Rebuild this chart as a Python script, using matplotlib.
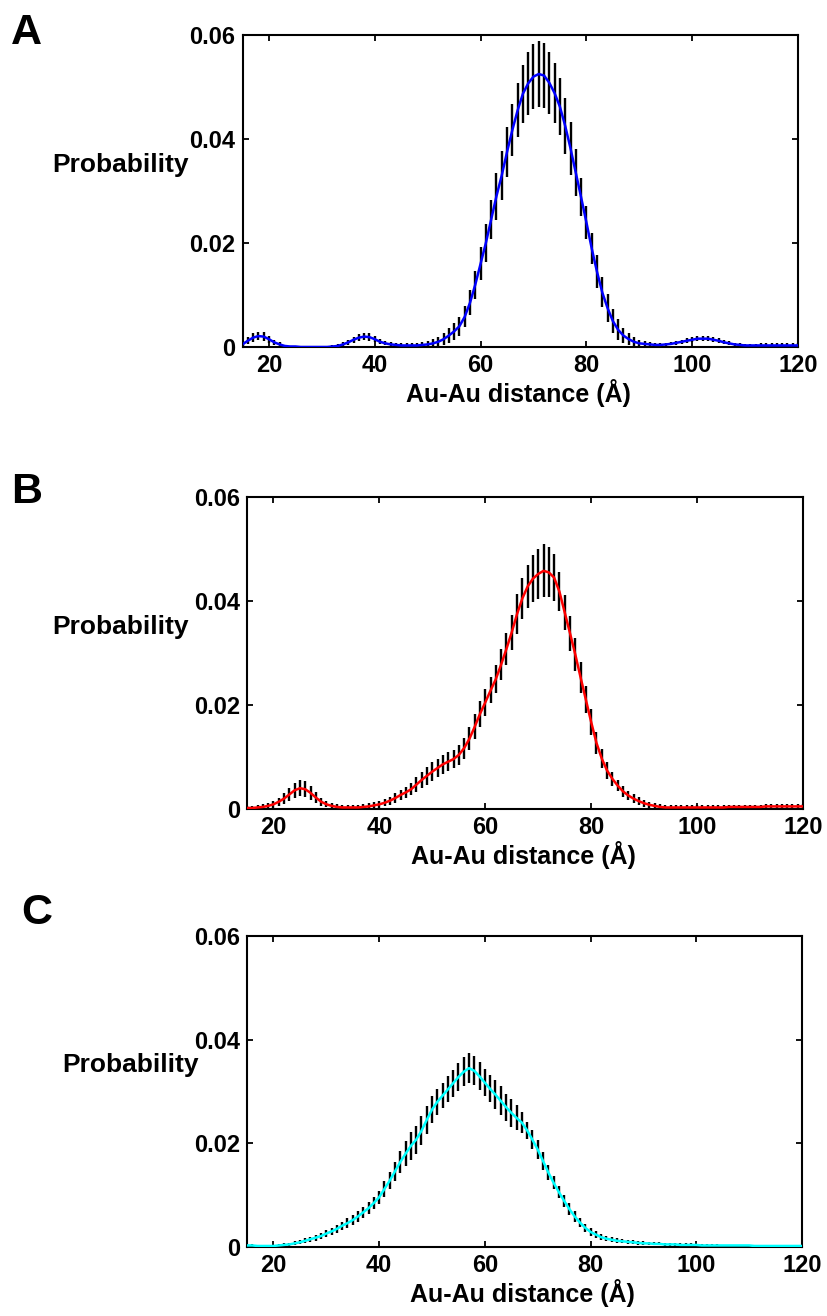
import numpy as np
import matplotlib
matplotlib.use("Agg")
import matplotlib.pyplot as plt

plt.rcParams['font.family'] = ['Liberation Sans', 'DejaVu Sans']
plt.rcParams['font.weight'] = 'bold'

# Au-Au distance grid (Angstrom), one point per 1 A
distance = list(range(15, 121))

# Panel A (blue)
prob_a = [0.0005, 0.0012, 0.0018, 0.0021, 0.0020, 0.0015, 0.0009, 0.0005, 0.0002, 0.0001,
          0.0001, 0.0000, 0.0000, 0.0000, 0.0000, 0.0000, 0.0000, 0.0001, 0.0002, 0.0005,
          0.0009, 0.0014, 0.0018, 0.0020, 0.0019, 0.0015, 0.0010, 0.0007, 0.0005, 0.0004,
          0.0003, 0.0003, 0.0003, 0.0003, 0.0004, 0.0005, 0.0007, 0.0010, 0.0015, 0.0022,
          0.0030, 0.0040, 0.0058, 0.0085, 0.0120, 0.0160, 0.0200, 0.0245, 0.0290, 0.0330,
          0.0375, 0.0417, 0.0455, 0.0487, 0.0507, 0.0520, 0.0525, 0.0522, 0.0508, 0.0488,
          0.0462, 0.0425, 0.0382, 0.0335, 0.0288, 0.0240, 0.0190, 0.0145, 0.0105, 0.0075,
          0.0050, 0.0033, 0.0022, 0.0015, 0.0010, 0.0007, 0.0006, 0.0005, 0.0004, 0.0004,
          0.0005, 0.0006, 0.0008, 0.0010, 0.0012, 0.0014, 0.0016, 0.0016, 0.0016, 0.0014,
          0.0012, 0.0009, 0.0007, 0.0005, 0.0004, 0.0003, 0.0003, 0.0003, 0.0003, 0.0003,
          0.0003, 0.0003, 0.0003, 0.0003, 0.0003, 0.0003]
err_a = [0.0006, 0.0007, 0.0008, 0.0008, 0.0008, 0.0007, 0.0005, 0.0004, 0.0002, 0.0001,
         0.0001, 0.0001, 0.0001, 0.0001, 0.0001, 0.0001, 0.0001, 0.0002, 0.0003, 0.0004,
         0.0005, 0.0006, 0.0007, 0.0007, 0.0007, 0.0006, 0.0005, 0.0004, 0.0004, 0.0004,
         0.0004, 0.0004, 0.0004, 0.0004, 0.0005, 0.0006, 0.0008, 0.0010, 0.0012, 0.0014,
         0.0016, 0.0018, 0.0020, 0.0024, 0.0027, 0.0032, 0.0036, 0.0038, 0.0045, 0.0047,
         0.0048, 0.0050, 0.0052, 0.0056, 0.0060, 0.0062, 0.0063, 0.0062, 0.0060, 0.0058,
         0.0055, 0.0053, 0.0051, 0.0045, 0.0037, 0.0032, 0.0030, 0.0031, 0.0029, 0.0027,
         0.0024, 0.0020, 0.0015, 0.0012, 0.0009, 0.0007, 0.0005, 0.0004, 0.0003, 0.0003,
         0.0003, 0.0003, 0.0004, 0.0004, 0.0005, 0.0005, 0.0005, 0.0005, 0.0005, 0.0005,
         0.0005, 0.0004, 0.0004, 0.0003, 0.0003, 0.0003, 0.0003, 0.0003, 0.0004, 0.0004,
         0.0004, 0.0004, 0.0004, 0.0004, 0.0004, 0.0004]

# Panel B (red)
prob_b = [0.0002, 0.0002, 0.0003, 0.0004, 0.0006, 0.0009, 0.0014, 0.0020, 0.0028, 0.0036,
          0.0040, 0.0038, 0.0031, 0.0022, 0.0014, 0.0009, 0.0006, 0.0004, 0.0003, 0.0003,
          0.0003, 0.0003, 0.0004, 0.0005, 0.0007, 0.0009, 0.0012, 0.0016, 0.0021, 0.0027,
          0.0032, 0.0038, 0.0047, 0.0056, 0.0064, 0.0072, 0.0079, 0.0086, 0.0091, 0.0096,
          0.0104, 0.0117, 0.0135, 0.0158, 0.0183, 0.0205, 0.0228, 0.0250, 0.0278, 0.0308,
          0.0340, 0.0375, 0.0405, 0.0428, 0.0443, 0.0452, 0.0458, 0.0455, 0.0445, 0.0418,
          0.0378, 0.0338, 0.0297, 0.0253, 0.0210, 0.0167, 0.0127, 0.0097, 0.0074, 0.0058,
          0.0045, 0.0034, 0.0026, 0.0020, 0.0015, 0.0011, 0.0008, 0.0006, 0.0004, 0.0003,
          0.0003, 0.0003, 0.0003, 0.0003, 0.0003, 0.0003, 0.0003, 0.0003, 0.0003, 0.0003,
          0.0003, 0.0004, 0.0004, 0.0004, 0.0004, 0.0004, 0.0004, 0.0004, 0.0005, 0.0005,
          0.0005, 0.0005, 0.0005, 0.0005, 0.0005, 0.0005]
err_b = [0.0003, 0.0003, 0.0004, 0.0005, 0.0006, 0.0007, 0.0008, 0.0010, 0.0012, 0.0014,
         0.0015, 0.0015, 0.0013, 0.0010, 0.0008, 0.0006, 0.0005, 0.0005, 0.0005, 0.0005,
         0.0005, 0.0005, 0.0005, 0.0006, 0.0006, 0.0007, 0.0007, 0.0008, 0.0009, 0.0010,
         0.0011, 0.0012, 0.0014, 0.0015, 0.0017, 0.0018, 0.0018, 0.0018, 0.0018, 0.0018,
         0.0019, 0.0020, 0.0022, 0.0024, 0.0025, 0.0026, 0.0025, 0.0027, 0.0029, 0.0031,
         0.0034, 0.0038, 0.0040, 0.0042, 0.0045, 0.0048, 0.0051, 0.0048, 0.0045, 0.0038,
         0.0033, 0.0034, 0.0031, 0.0029, 0.0026, 0.0025, 0.0021, 0.0019, 0.0016, 0.0013,
         0.0011, 0.0010, 0.0009, 0.0008, 0.0008, 0.0007, 0.0006, 0.0005, 0.0005, 0.0005,
         0.0004, 0.0004, 0.0004, 0.0004, 0.0004, 0.0004, 0.0004, 0.0004, 0.0004, 0.0004,
         0.0004, 0.0004, 0.0004, 0.0004, 0.0004, 0.0004, 0.0004, 0.0004, 0.0004, 0.0004,
         0.0004, 0.0004, 0.0004, 0.0004, 0.0004, 0.0004]

# Panel C (cyan)
prob_c = [0.0003, 0.0003, 0.0002, 0.0002, 0.0002, 0.0002, 0.0003, 0.0004, 0.0005, 0.0007,
          0.0009, 0.0012, 0.0015, 0.0018, 0.0021, 0.0026, 0.0030, 0.0035, 0.0041, 0.0046,
          0.0052, 0.0059, 0.0067, 0.0075, 0.0085, 0.0096, 0.0112, 0.0128, 0.0146, 0.0164,
          0.0180, 0.0195, 0.0207, 0.0224, 0.0245, 0.0265, 0.0280, 0.0292, 0.0304, 0.0316,
          0.0328, 0.0338, 0.0345, 0.0340, 0.0329, 0.0317, 0.0305, 0.0294, 0.0282, 0.0270,
          0.0259, 0.0249, 0.0240, 0.0225, 0.0207, 0.0188, 0.0166, 0.0144, 0.0124, 0.0106,
          0.0089, 0.0073, 0.0059, 0.0047, 0.0037, 0.0029, 0.0024, 0.0019, 0.0016, 0.0014,
          0.0012, 0.0011, 0.0010, 0.0009, 0.0008, 0.0007, 0.0007, 0.0006, 0.0006, 0.0005,
          0.0005, 0.0005, 0.0004, 0.0004, 0.0004, 0.0004, 0.0003, 0.0003, 0.0003, 0.0003,
          0.0003, 0.0003, 0.0003, 0.0003, 0.0003, 0.0003, 0.0002, 0.0002, 0.0002, 0.0002,
          0.0002, 0.0002, 0.0002, 0.0002, 0.0002, 0.0002]
err_c = [0.0002, 0.0002, 0.0002, 0.0002, 0.0002, 0.0002, 0.0002, 0.0003, 0.0003, 0.0004,
         0.0004, 0.0005, 0.0005, 0.0006, 0.0006, 0.0006, 0.0007, 0.0008, 0.0008, 0.0009,
         0.0010, 0.0010, 0.0011, 0.0011, 0.0012, 0.0013, 0.0015, 0.0016, 0.0018, 0.0021,
         0.0024, 0.0027, 0.0027, 0.0028, 0.0027, 0.0026, 0.0025, 0.0024, 0.0025, 0.0026,
         0.0027, 0.0028, 0.0029, 0.0028, 0.0027, 0.0026, 0.0026, 0.0028, 0.0028, 0.0026,
         0.0027, 0.0024, 0.0020, 0.0017, 0.0018, 0.0019, 0.0017, 0.0014, 0.0013, 0.0012,
         0.0011, 0.0011, 0.0010, 0.0009, 0.0008, 0.0007, 0.0006, 0.0006, 0.0005, 0.0005,
         0.0005, 0.0004, 0.0004, 0.0004, 0.0004, 0.0004, 0.0003, 0.0003, 0.0003, 0.0003,
         0.0003, 0.0003, 0.0003, 0.0003, 0.0003, 0.0002, 0.0002, 0.0002, 0.0002, 0.0002,
         0.0001, 0.0001, 0.0001, 0.0001, 0.0001, 0.0001, 0.0001, 0.0001, 0.0001, 0.0001,
         0.0001, 0.0001, 0.0001, 0.0001, 0.0001, 0.0001]

x_ticks = [20, 40, 60, 80, 100, 120]
y_ticks = [0, 0.02, 0.04, 0.06]
y_tick_labels = ['0', '0.02', '0.04', '0.06']
panel_letters = ['A', 'B', 'C']
x_label = 'Au-Au distance (Å)'
y_label = 'Probability'

W, H = 827, 1316
fig = plt.figure(figsize=(W / 100, H / 100), dpi=100)

# axes boxes in pixels: left, right, top, bottom
boxes = [(242.5, 798, 35, 347), (247, 803, 497, 809), (247, 802, 936, 1247)]
letter_pos = [(11, 33), (11, 492), (21, 913)]
ylabel_x = [121, 121, 130]
colors = ['#0000ff', '#ff0000', '#00ffff']
series = [(prob_a, err_a), (prob_b, err_b), (prob_c, err_c)]

for i, (box, (yv, ev)) in enumerate(zip(boxes, series)):
    l, r, t, b = box
    ax = fig.add_axes([l / W, 1 - b / H, (r - l) / W, (b - t) / H])
    ax.errorbar(distance, yv, yerr=ev, fmt='none', ecolor='black',
                elinewidth=1.7, capsize=0, zorder=2)
    ax.plot(distance, yv, color=colors[i], lw=1.8, zorder=3)
    ax.set_xlim(15, 120)
    ax.set_ylim(0, 0.06)
    ax.set_xticks(x_ticks)
    ax.set_xticklabels([str(v) for v in x_ticks])
    ax.set_yticks(y_ticks)
    ax.set_yticklabels(y_tick_labels)
    ax.tick_params(direction='in', top=True, right=True, length=4, width=1.3,
                   labelsize=17, pad=5)
    for lab in ax.get_xticklabels() + ax.get_yticklabels():
        lab.set_fontweight('bold')
    for sp in ax.spines.values():
        sp.set_linewidth(1.5)
    # x label
    fig.text(((l + r) / 2 - 2) / W, 1 - (b + 46) / H, x_label, ha='center', va='center',
             fontsize=18, fontweight='bold')
    # y label (horizontal)
    fig.text(ylabel_x[i] / W, 1 - (b - 182) / H, y_label, ha='center', va='center',
             fontsize=19, fontweight='bold')
    # panel letter
    lx, ly = letter_pos[i]
    fig.text(lx / W, 1 - ly / H, panel_letters[i], ha='left', va='center',
             fontsize=31, fontweight='bold')

fig.savefig('out.png', dpi=100)
